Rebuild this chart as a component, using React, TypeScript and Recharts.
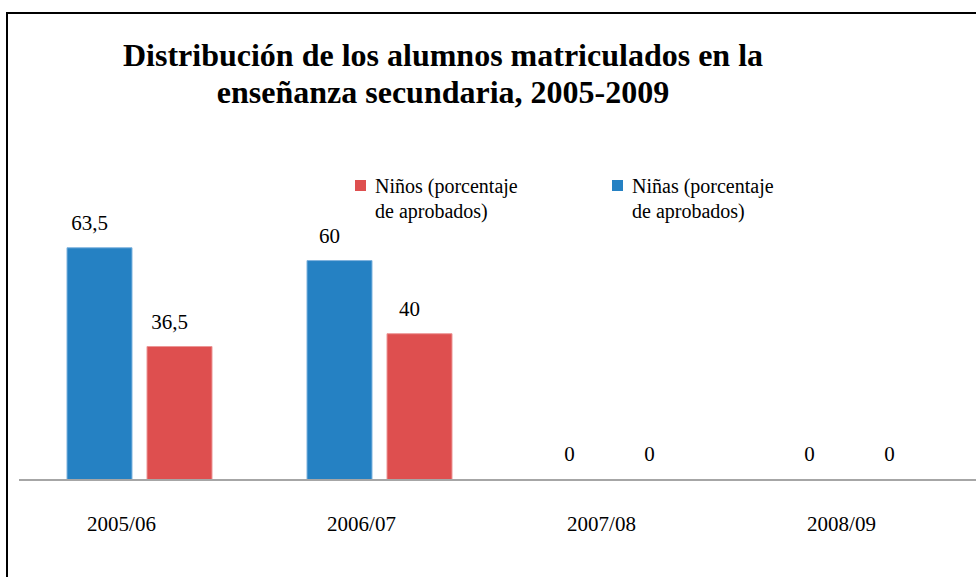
import { BarChart, Bar, XAxis, YAxis, Legend, LabelList, Rectangle } from "recharts";

const periods = ["2005/06", "2006/07", "2007/08", "2008/09"];
const girls = [63.5, 60, 0, 0];
const boys = [36.5, 40, 0, 0];
const girlsName = "Niñas (porcentaje de aprobados)";
const boysName = "Niños (porcentaje de aprobados)";

const BLUE = "#2581c3";
const RED = "#de4f4f";
const SERIF = "'Liberation Serif', 'Times New Roman', serif";

const data = periods.map((p, i) => ({ period: p, girls: girls[i], boys: boys[i] }));

const fmt = (v: number) => String(v).replace(".", ",");

// zero values get a 1px placeholder bar (so they keep a label) but draw nothing
const makeShape = (key: string) => (props: any) => {
  if (!props.payload || !props.payload[key]) return <g />;
  return <Rectangle {...props} />;
};

// value above each bar (zeros sit on the axis)
const ValueLabel = (props: any) => {
  const { x, y, width, height, value } = props;
  const top = Math.min(y, y + height);
  return (
    <text
      x={x + width / 2 - 10}
      y={top - 18}
      textAnchor="middle"
      fontFamily={SERIF}
      fontSize={21}
      fill="#000"
    >
      {fmt(value)}
    </text>
  );
};

const PeriodTick = (props: any) => (
  <text
    x={props.x - 17.5}
    y={props.y + 51}
    textAnchor="middle"
    fontFamily={SERIF}
    fontSize={21}
    fill="#000"
  >
    {props.payload.value}
  </text>
);

const LegendBox = (props: any) => {
  const items = [...(props.payload || [])].reverse();
  return (
    <div style={{ display: "flex", fontFamily: SERIF, fontSize: 20, lineHeight: "25px", color: "#000" }}>
      {items.map((it: any) => (
        <div key={it.value} style={{ display: "flex", width: 257 }}>
          <span
            style={{
              display: "inline-block",
              width: 11,
              height: 11,
              background: it.color,
              marginTop: 6,
              marginRight: 9,
              flex: "none",
            }}
          />
          <span style={{ width: 155 }}>{it.value}</span>
        </div>
      ))}
    </div>
  );
};

export default function App() {
  return (
    <div
      style={{
        position: "fixed",
        left: 0,
        top: 0,
        width: 976,
        height: 577,
        overflow: "hidden",
        background: "#fff",
      }}
    >
      <div
        style={{
          position: "absolute",
          left: 6,
          top: 12,
          right: -10,
          bottom: -10,
          borderLeft: "2px solid #000",
          borderTop: "2px solid #000",
        }}
      />
      <div
        style={{
          position: "absolute",
          left: 43,
          top: 37,
          width: 800,
          textAlign: "center",
          fontFamily: SERIF,
          fontWeight: "bold",
          fontSize: 32,
          lineHeight: "37px",
          color: "#000",
        }}
      >
        Distribución de los alumnos matriculados en la
        <br />
        enseñanza secundaria, 2005-2009
      </div>
      <div style={{ position: "absolute", left: 0, top: 0 }}>
        <BarChart
          width={1000}
          height={577}
          data={data}
          margin={{ top: 224, right: 21, left: 19, bottom: 0 }}
          barSize={65}
          barGap={15}
        >
          <XAxis
            dataKey="period"
            height={97}
            tickLine={false}
            tickSize={0}
            tickMargin={0}
            axisLine={{ stroke: "#a6a6a6", strokeWidth: 2 }}
            tick={<PeriodTick />}
          />
          <YAxis hide domain={[0, 70]} />
          <Legend
            layout="horizontal"
            verticalAlign="middle"
            align="center"
            content={<LegendBox />}
            wrapperStyle={{ position: "absolute", left: 355, top: 174, width: 560 }}
          />
          <Bar
            dataKey="girls"
            name={girlsName}
            fill={BLUE}
            stroke="#7fb3de"
            strokeWidth={1}
            minPointSize={1}
            shape={makeShape("girls")}
            isAnimationActive={false}
          >
            <LabelList dataKey="girls" content={<ValueLabel />} />
          </Bar>
          <Bar
            dataKey="boys"
            name={boysName}
            fill={RED}
            stroke="#ec9696"
            strokeWidth={1}
            minPointSize={1}
            shape={makeShape("boys")}
            isAnimationActive={false}
          >
            <LabelList dataKey="boys" content={<ValueLabel />} />
          </Bar>
        </BarChart>
      </div>
    </div>
  );
}
